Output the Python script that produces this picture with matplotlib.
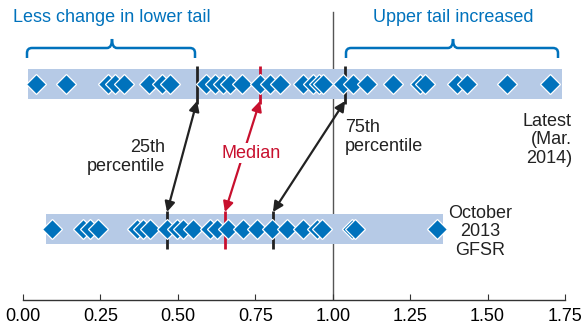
import matplotlib
matplotlib.use("Agg")
import matplotlib.pyplot as plt
from matplotlib.path import Path
from matplotlib.patches import PathPatch
import numpy as np

plt.rcParams['font.family'] = ['Liberation Sans Narrow', 'Liberation Sans', 'DejaVu Sans']

# Data
latest = [0.042, 0.139, 0.274, 0.297, 0.326, 0.407, 0.449, 0.475, 0.591, 0.620,
          0.645, 0.668, 0.707, 0.765, 0.798, 0.830, 0.904, 0.936, 0.955, 0.969,
          1.033, 1.066, 1.111, 1.195, 1.282, 1.298, 1.401, 1.434, 1.563, 1.702]
october = [0.094, 0.194, 0.216, 0.242, 0.368, 0.387, 0.410, 0.465, 0.497, 0.517,
           0.549, 0.604, 0.626, 0.662, 0.710, 0.756, 0.804, 0.852, 0.904, 0.949,
           0.965, 1.062, 1.072, 1.337]
latest_band = (0.016, 1.74)
october_band = (0.074, 1.356)
latest_q = [0.562, 0.765, 1.040]   # 25th, median, 75th
october_q = [0.465, 0.652, 0.807]
xticks = [0.00, 0.25, 0.50, 0.75, 1.00, 1.25, 1.50, 1.75]

BLUE = '#0072BC'
BAND = '#B6CAE6'
RED = '#C8102E'

fig = plt.figure(figsize=(5.87, 3.27), dpi=100)
ax = fig.add_axes([23/587, 27/327, 542/587, 300/327])
ax.set_xlim(0, 1.75)
ax.set_ylim(0, 300)
for s in ['top', 'left', 'right']:
    ax.spines[s].set_visible(False)
ax.spines['bottom'].set_color('#333333')
ax.spines['bottom'].set_linewidth(1.0)
ax.set_yticks([])
ax.set_xticks(xticks)
ax.set_xticklabels([f"{t:.2f}" for t in xticks], fontsize=13)
ax.tick_params(axis='x', direction='in', length=4, color='#333333', pad=6)

y_top, y_bot, hh = 216, 71, 15
pxu = 542/1.75  # pixels per unit

ax.axvline(1.0, ymin=0, ymax=288/300, color='#555555', lw=1.0, zorder=1)

for (a, b), y in [(latest_band, y_top), (october_band, y_bot)]:
    ax.fill_between([a, b], y - hh, y + hh, color=BAND, lw=0, zorder=2)

for qs, y in [(latest_q, y_top), (october_q, y_bot)]:
    for q, c in zip(qs, ['#222222', RED, '#222222']):
        ax.plot([q, q], [y - hh - 5, y + hh + 3], color=c, lw=2, zorder=3, solid_capstyle='butt')

ax.plot(latest, [y_top]*len(latest), 'D', ms=10.5, color=BLUE, mec='white', mew=0.9, zorder=4, ls='none')
ax.plot(october, [y_bot]*len(october), 'D', ms=10.5, color=BLUE, mec='white', mew=0.9, zorder=4, ls='none')

# arrows between quartiles
for qt, qb, c in zip(latest_q, october_q, ['#222222', RED, '#222222']):
    ax.annotate('', xy=(qb, y_bot + hh + 2), xytext=(qt, y_top - hh - 2),
                arrowprops=dict(arrowstyle='<|-|>', color=c, lw=1.6,
                                mutation_scale=15, shrinkA=0, shrinkB=0), zorder=5)

# labels
ax.text(0.46, 143, '25th\npercentile', ha='right', va='center', fontsize=13,
        linespacing=1.15, color='#222222')
ax.text(0.735, 147, 'Median', ha='center', va='center', fontsize=13, color=RED,
        bbox=dict(boxstyle='square,pad=0.1', fc='white', ec='none'), zorder=6)
ax.text(1.04, 163, '75th\npercentile', ha='left', va='center', fontsize=13,
        linespacing=1.15, color='#222222')
ax.text(1.772, 160, 'Latest\n(Mar.\n2014)', ha='right', va='center', fontsize=13,
        linespacing=1.15, color='#222222')
ax.text(1.475, 68, 'October\n2013\nGFSR', ha='center', va='center', fontsize=13,
        linespacing=1.15, color='#222222')

# braces
def brace(x0, x1, xc, yb):
    r = 5/pxu
    ry = 5
    verts = [(x0, yb - 10), (x0, yb - ry), (x0, yb), (x0 + r, yb),
             (xc - r, yb), (xc, yb), (xc, yb + 9),
             (xc, yb), (xc + r, yb),
             (x1 - r, yb), (x1, yb), (x1, yb - ry), (x1, yb - 10)]
    codes = [Path.MOVETO, Path.LINETO, Path.CURVE3, Path.CURVE3,
             Path.LINETO, Path.CURVE3, Path.CURVE3,
             Path.CURVE3, Path.CURVE3,
             Path.LINETO, Path.CURVE3, Path.CURVE3, Path.LINETO]
    ax.add_patch(PathPatch(Path(verts, codes), fc='none', ec=BLUE, lw=1.8,
                           clip_on=False, zorder=5))

brace(4/pxu, 172/pxu, 89/pxu, 252)
brace(323/pxu, 535/pxu, 430/pxu, 252)
ax.text(89/pxu, 283, 'Less change in lower tail', ha='center', va='center',
        fontsize=13, color=BLUE)
ax.text(430/pxu, 283, 'Upper tail increased', ha='center', va='center',
        fontsize=13, color=BLUE)

fig.savefig('out.png', dpi=100)
